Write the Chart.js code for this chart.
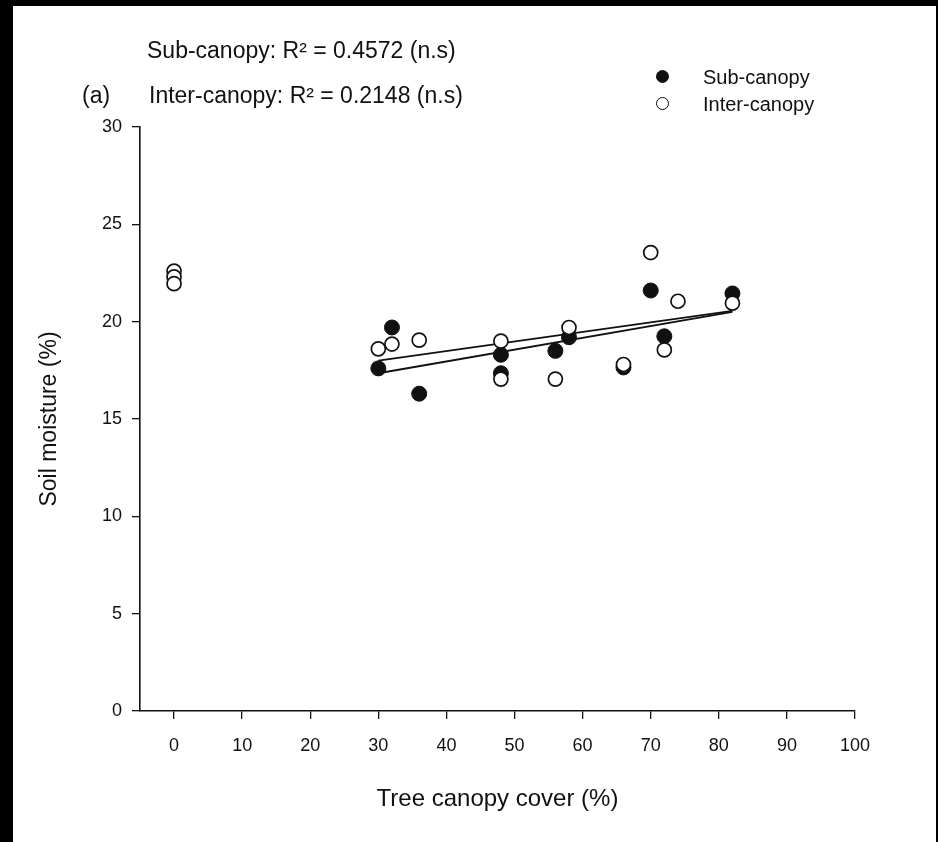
<!DOCTYPE html>
<html>
<head>
<meta charset="utf-8">
<script src="https://cdn.jsdelivr.net/npm/chart.js@4.4.1/dist/chart.umd.min.js"></script>
<style>
  html, body { margin: 0; padding: 0; background: #000; width: 938px; height: 842px; overflow: hidden; }
  #panel { position: absolute; left: 13px; top: 6px; width: 923px; height: 836px; background: #fff; }
  #wrap { position: absolute; left: 0; top: 0; width: 923px; height: 836px; }
  .txt { position: absolute; font-family: "Liberation Sans", Arial, sans-serif; color: #111; white-space: nowrap; line-height: 1; }
  .ann { font-size: 23px; }
  .leg { font-size: 20px; }
  .dot { position: absolute; width: 13px; height: 13px; border-radius: 50%; box-sizing: border-box; border: 1.6px solid #111; }
</style>
</head>
<body>
<div id="panel">
  <div id="wrap"><canvas id="c" width="923" height="836"></canvas></div>
  <div class="txt ann" style="left:134px; top:33px;">Sub-canopy: R² = 0.4572 (n.s)</div>
  <div class="txt ann" style="left:69px; top:78px;">(a)</div>
  <div class="txt ann" style="left:136px; top:78px;">Inter-canopy: R² = 0.2148 (n.s)</div>
  <div class="dot" style="left:643px; top:64px; background:#111;"></div>
  <div class="txt leg" style="left:690px; top:61px;">Sub-canopy</div>
  <div class="dot" style="left:643px; top:91px; background:#fff;"></div>
  <div class="txt leg" style="left:690px; top:88px;">Inter-canopy</div>
</div>
<script>
// ---- data ----
const subX = [30, 32, 36, 48, 48, 56, 58, 66, 70, 72, 82];
const subY = [17.6, 19.7, 16.3, 18.3, 17.35, 18.5, 19.2, 17.65, 21.6, 19.25, 21.45];
const interX = [0, 0, 0, 30, 32, 36, 48, 48, 56, 58, 66, 70, 72, 74, 82];
const interY = [22.6, 22.3, 21.95, 18.6, 18.85, 19.05, 19.0, 17.05, 17.05, 19.7, 17.8, 23.55, 18.55, 21.05, 20.95];
const fitX = [30, 82];
const subFitY = [17.35, 20.5];
const interFitY = [18.0, 20.55];
const xTicks = [0, 10, 20, 30, 40, 50, 60, 70, 80, 90, 100];
const yTicks = [0, 5, 10, 15, 20, 25, 30];

const pts = (xs, ys) => xs.map((x, i) => ({ x: x, y: ys[i] }));

const FONT = '"Liberation Sans", Arial, sans-serif';
const INK = '#111';

new Chart(document.getElementById('c'), {
  type: 'scatter',
  data: {
    datasets: [
      { label: 'Inter-canopy', data: pts(interX, interY), order: 1,
        pointRadius: 7, pointHoverRadius: 7, pointBackgroundColor: '#fff', pointBorderColor: INK, pointBorderWidth: 1.7 },
      { label: 'Sub-canopy', data: pts(subX, subY), order: 2,
        pointRadius: 7.5, pointHoverRadius: 7.5, pointBackgroundColor: INK, pointBorderColor: INK, pointBorderWidth: 1 },
      { type: 'line', label: 'Sub-canopy fit', data: pts(fitX, subFitY), order: 3,
        borderColor: INK, borderWidth: 1.8, pointRadius: 0, fill: false },
      { type: 'line', label: 'Inter-canopy fit', data: pts(fitX, interFitY), order: 3,
        borderColor: INK, borderWidth: 1.8, pointRadius: 0, fill: false }
    ]
  },
  options: {
    responsive: false,
    animation: false,
    events: [],
    layout: { padding: { left: 0, top: 121, right: 81, bottom: 0 } },
    plugins: { legend: { display: false }, tooltip: { enabled: false } },
    scales: {
      x: {
        type: 'linear', min: -5, max: 100,
        afterBuildTicks: s => { s.ticks = xTicks.map(v => ({ value: v })); },
        afterFit: s => { s.height = 131; },
        grid: { display: true, drawOnChartArea: false, drawTicks: true, tickLength: 8, color: INK, lineWidth: 1.3 },
        border: { display: true, color: INK, width: 1.6 },
        ticks: { color: INK, padding: 16, font: { family: FONT, size: 18 } },
        title: { display: true, text: 'Tree canopy cover (%)', color: INK,
                 font: { family: FONT, size: 24 }, padding: { top: 0, bottom: 28 } }
      },
      y: {
        type: 'linear', min: 0, max: 30,
        afterBuildTicks: s => { s.ticks = yTicks.map(v => ({ value: v })); },
        afterFit: s => { s.width = 127; },
        grid: { display: true, drawOnChartArea: false, drawTicks: true, tickLength: 8, color: INK, lineWidth: 1.3 },
        border: { display: true, color: INK, width: 1.6 },
        ticks: { color: INK, padding: 10, font: { family: FONT, size: 18 } },
        title: { display: true, text: 'Soil moisture (%)', color: INK,
                 font: { family: FONT, size: 23 }, padding: { top: 23, bottom: 0 } }
      }
    }
  }
});
</script>
</body>
</html>
